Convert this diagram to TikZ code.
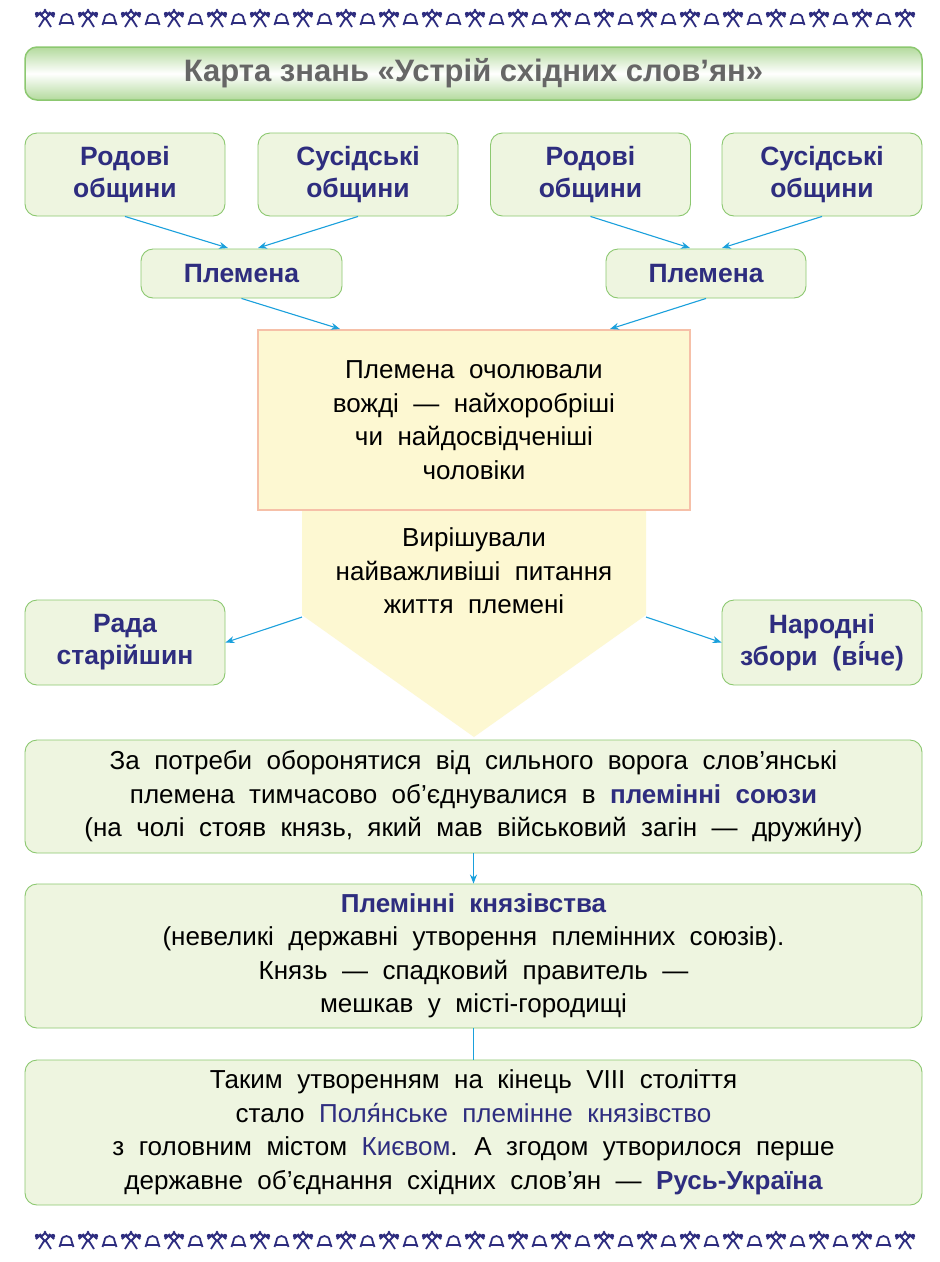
\documentclass[tikz,border=0pt]{standalone}
\usepackage{fontspec}
\setmainfont{Liberation Sans}
\usetikzlibrary{arrows.meta}
\definecolor{gb}{HTML}{8CC870}
\definecolor{gf}{HTML}{EEF5E0}
\definecolor{navy}{HTML}{2E2D7F}
\definecolor{cy}{HTML}{1AA0DC}
\definecolor{pk}{HTML}{F6C0A8}
\definecolor{yl}{HTML}{FDF8D2}
\begin{document}
\begin{tikzpicture}[x=1pt,y=-1pt,
 box/.style={draw=gb,fill=gf,rounded corners=12pt,line width=0.9pt},
 nv/.style={text=navy,font=\fontsize{26.5}{32}\selectfont\bfseries,align=center},
 tx/.style={font=\fontsize{26}{33.5}\selectfont,align=center},
 ar/.style={cy,line width=1.1pt,-{Stealth[length=9pt,width=7pt]}},
 orn/.style={navy,line width=1.8pt}]
\useasboundingbox[fill=white] (0,0) rectangle (940,1262);
% ornaments
\foreach \yy in {18,1240}{
 \foreach \i in {0,...,20}{
  \pgfmathsetmacro\cx{45+\i*43}
  \begin{scope}[shift={(\cx,\yy)}]
   \draw[orn] (-4,-3)--(0,-7)--(4,-3)--(0,1)--cycle (-9,-1)--(-4,-6) (9,-1)--(4,-6) (-1,1)--(-6,9) (1,1)--(6,9);
   \fill[navy] (-8,-4) circle(2.2) (8,-4) circle(2.2) (0,-8) circle(1.5);
  \end{scope}
  \ifnum\i<20
  \begin{scope}[shift={(\cx+21.5,\yy)}]
   \draw[orn] (-5,1) to[out=90,in=90,looseness=1.7] (5,1) (-5,1)--(-7,7) (5,1)--(7,7) (-6,5)--(6,5);
  \end{scope}
  \fi
 }}
% title
\node[draw=gb,line width=1.5pt,rounded corners=12pt,top color=gf!40!gb,bottom color=gf!40!gb,middle color=white,minimum width=897pt,minimum height=53pt] (title) at (473.5,73.5) {};
\node[text=black!60,font=\fontsize{31}{34}\selectfont\bfseries] (titletext) at (title) {Карта знань «Устрій східних слов’ян»};
% top boxes
\node[box,nv,minimum width=200pt,minimum height=83pt] (r1) at (125,174.5) {Родові\\общини};
\node[box,nv,minimum width=200pt,minimum height=83pt] (s1) at (358,174.5) {Сусідські\\общини};
\node[box,nv,minimum width=200pt,minimum height=83pt] (r2) at (590.5,174.5) {Родові\\общини};
\node[box,nv,minimum width=200pt,minimum height=83pt] (s2) at (822,174.5) {Сусідські\\общини};
\node[box,nv,minimum width=201pt,minimum height=49pt] (p1) at (241.5,273.5) {Племена};
\node[box,nv,minimum width=200pt,minimum height=49pt] (p2) at (706,273.5) {Племена};
\coordinate (p1a) at (228,248); \coordinate (p2a) at (690,248);
\coordinate (p1b) at (258,248); \coordinate (p2b) at (722,248);
\draw[ar] (r1.south) -- (p1a); \draw[ar] (s1.south) -- (p1b);
\draw[ar] (r2.south) -- (p2a); \draw[ar] (s2.south) -- (p2b);
% pentagon
\coordinate (pa) at (340,329); \coordinate (pb) at (610,329);
\fill[yl] (302,505) -- (646,505) -- (646,615) -- (474,737) -- (302,615) -- cycle;
\node[draw=pk,fill=yl,line width=1.5pt,minimum width=432pt,minimum height=180pt,tx] (lead) at (474,420) {Племена~ очолювали\\вожді~ —~ найхоробріші\\чи~ найдосвідченіші\\чоловіки};
\node[tx] (dec) at (474,571) {Вирішували\\найважливіші~ питання\\життя~ племені};
\draw[ar] (p1.south) -- (pa); \draw[ar] (p2.south) -- (pb);
\node[box,nv,minimum width=200pt,minimum height=85pt] (rada) at (125,642.5) {Рада\\старійшин};
\node[box,nv,minimum width=200pt,minimum height=85pt] (vich) at (822,642.5) {Народні\\збори~ (ві́че)};
\coordinate (dl) at (302,617); \coordinate (dr) at (646,617);
\draw[ar] (dl) -- (rada.east); \draw[ar] (dr) -- (vich.west);
% bottom boxes
\node[box,tx,minimum width=897pt,minimum height=113pt] (b4) at (473.5,796.5) {За~ потреби~ оборонятися~ від~ сильного~ ворога~ слов’янські\\племена~ тимчасово~ об’єднувалися~ в~ \textcolor{navy}{\bfseries племінні~ союзи}\\(на~ чолі~ стояв~ князь,~ який~ мав~ військовий~ загін~ —~ дружи́ну)};
\node[box,tx,minimum width=897pt,minimum height=144pt] (b5) at (473.5,956) {\textcolor{navy}{\bfseries Племінні~ князівства}\\(невеликі~ державні~ утворення~ племінних~ союзів).\\Князь~ —~ спадковий~ правитель~ —\\мешкав~ у~ місті-городищі};
\node[box,tx,minimum width=897pt,minimum height=145pt] (b6) at (473.5,1132.5) {Таким~ утворенням~ на~ кінець~ VIII~ століття\\стало~ \textcolor{navy}{Поля́нське~ племінне~ князівство}\\з~ головним~ містом~ \textcolor{navy}{Києвом}.~ А~ згодом~ утворилося~ перше\\державне~ об’єднання~ східних~ слов’ян~ —~ \textcolor{navy}{\bfseries Русь-Україна}};
\draw[ar] (b4.south) -- (b5.north);
\draw[cy,line width=1.3pt] (b5.south) -- (b6.north);
\end{tikzpicture}
\end{document}
